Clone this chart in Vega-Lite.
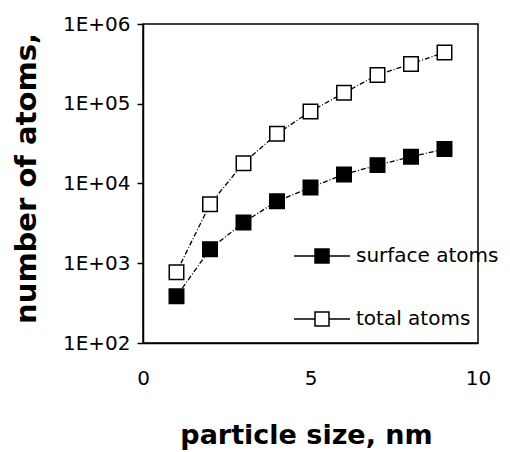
{
  "$schema": "https://vega.github.io/schema/vega-lite/v6.json",
  "autosize": "none",
  "width": 335,
  "height": 319,
  "padding": {"left": 143, "top": 24, "right": 32, "bottom": 109},
  "background": "white",
  "config": {
    "view": {"stroke": "black", "strokeWidth": 1.5},
    "axis": {
      "labelFont": "DejaVu Sans",
      "labelFontSize": 20,
      "labelColor": "black",
      "labelFlush": false,
      "domainColor": "black",
      "domainWidth": 1.5,
      "tickColor": "black",
      "grid": false,
      "titleFont": "DejaVu Sans",
      "titleFontWeight": "bold",
      "titleColor": "black"
    }
  },
  "data": {
    "values": [
      {"size": 1, "atoms": 385, "series": "surface atoms"},
      {"size": 2, "atoms": 1500, "series": "surface atoms"},
      {"size": 3, "atoms": 3250, "series": "surface atoms"},
      {"size": 4, "atoms": 6000, "series": "surface atoms"},
      {"size": 5, "atoms": 8900, "series": "surface atoms"},
      {"size": 6, "atoms": 13000, "series": "surface atoms"},
      {"size": 7, "atoms": 17000, "series": "surface atoms"},
      {"size": 8, "atoms": 21700, "series": "surface atoms"},
      {"size": 9, "atoms": 27000, "series": "surface atoms"},
      {"size": 1, "atoms": 770, "series": "total atoms"},
      {"size": 2, "atoms": 5500, "series": "total atoms"},
      {"size": 3, "atoms": 18000, "series": "total atoms"},
      {"size": 4, "atoms": 42000, "series": "total atoms"},
      {"size": 5, "atoms": 80000, "series": "total atoms"},
      {"size": 6, "atoms": 137000, "series": "total atoms"},
      {"size": 7, "atoms": 230000, "series": "total atoms"},
      {"size": 8, "atoms": 316000, "series": "total atoms"},
      {"size": 9, "atoms": 440000, "series": "total atoms"}
    ]
  },
  "encoding": {
    "x": {
      "field": "size",
      "type": "quantitative",
      "scale": {"domain": [0, 10], "nice": false, "zero": false},
      "axis": {
        "values": [0, 5, 10],
        "ticks": false,
        "labelPadding": 25,
        "title": "particle size, nm",
        "titleFontSize": 27,
        "titleX": 163,
        "titleY": 100,
        "titleAlign": "center",
        "titleBaseline": "alphabetic"
      }
    },
    "y": {
      "field": "atoms",
      "type": "quantitative",
      "scale": {"type": "log", "domain": [100, 1000000], "nice": false},
      "axis": {
        "values": [100, 1000, 10000, 100000, 1000000],
        "labelExpr": "'1E+0' + round(log(datum.value)/LN10)",
        "tickSize": 6,
        "tickWidth": 1.5,
        "labelPadding": 7,
        "title": "number of atoms,",
        "titleFontSize": 29,
        "titleAngle": 270,
        "titleX": -117,
        "titleY": 154,
        "titleAlign": "center",
        "titleBaseline": "middle"
      }
    }
  },
  "layer": [
    {
      "mark": {"type": "line", "stroke": "black", "strokeWidth": 1.3, "strokeDash": [5, 2, 1, 2]},
      "encoding": {"detail": {"field": "series"}}
    },
    {
      "mark": {"type": "point", "shape": "square", "size": 210, "filled": true, "stroke": "black", "strokeWidth": 1.5, "opacity": 1},
      "encoding": {
        "fill": {
          "field": "series",
          "type": "nominal",
          "scale": {"domain": ["surface atoms", "total atoms"], "range": ["black", "white"]},
          "legend": {
            "orient": "none",
            "legendX": 169,
            "legendY": 222,
            "title": null,
            "padding": 0,
            "symbolType": "M-4,0H-1M1,0H4M-1,-1H1V1H-1Z",
            "symbolSize": 196,
            "symbolStrokeColor": "black",
            "symbolStrokeWidth": 1.5,
            "symbolOpacity": 1,
            "labelFont": "DejaVu Sans",
            "labelFontSize": 20,
            "labelColor": "black",
            "labelOffset": 24,
            "rowPadding": 43,
            "encode": {"symbols": {"update": {"stroke": {"value": "black"}, "strokeWidth": {"value": 1.5}}}}
          }
        }
      }
    }
  ]
}
